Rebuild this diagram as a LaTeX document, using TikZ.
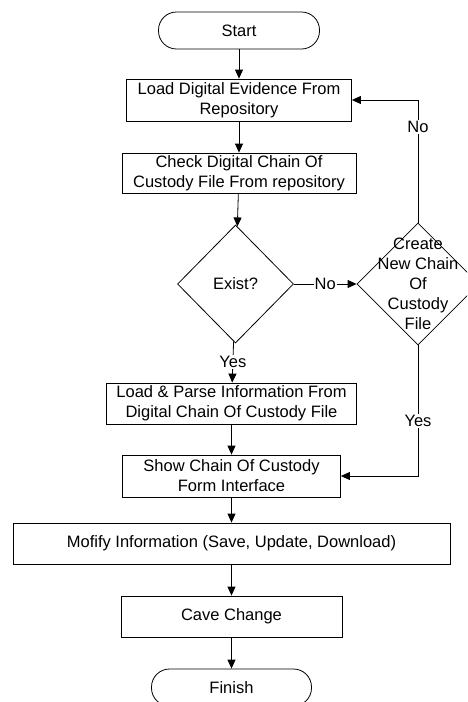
\documentclass[tikz,border=0pt]{standalone}
\usepackage{fontspec}
\setmainfont{Liberation Sans}
\usetikzlibrary{shapes, arrows.meta, positioning, calc}

\begin{document}
\begin{tikzpicture}[x=1pt, y=-1pt,
    every node/.style={font=\fontsize{16.5}{20}\selectfont},
    process/.style={draw, rectangle, line width=0.8pt, align=center, inner sep=2pt},
    terminal/.style={draw, rectangle, rounded corners=18pt, line width=0.8pt, minimum width=161pt, minimum height=37pt},
    decision/.style={draw, diamond, line width=0.8pt, inner sep=0pt},
    flow/.style={line width=0.8pt, -{Triangle[length=9pt, width=8pt]}},
    tag/.style={fill=white, inner sep=1pt}]
    \useasboundingbox (0,0) rectangle (467,702);
    \clip (0,0) rectangle (467,702);

    % main column
    \node[terminal] (start) at (239,30.5) {Start};
    \node[process, minimum width=225pt, minimum height=42pt] (load) at (239,100) {Load Digital Evidence From\\Repository};
    \node[process, minimum width=234pt, minimum height=40pt] (check) at (239,173) {Check Digital Chain Of\\Custody File From repository};
    \node[decision, minimum width=116pt, minimum height=118pt] (exist) at (235.5,284) {Exist?};
    \node[process, minimum width=250pt, minimum height=41pt] (parse) at (231.5,403.5) {Load \& Parse Information From\\Digital Chain Of Custody File};
    \node[process, minimum width=218pt, minimum height=42pt] (show) at (231.5,476) {Show Chain Of Custody\\Form Interface};
    \node[process, minimum width=437pt, minimum height=41pt] (modify) at (231.5,543.5) {Mofify Information (Save, Update, Download)};
    \node[process, minimum width=221pt, minimum height=41pt] (save) at (231.5,616.5) {Cave Change};
    \node[terminal, minimum width=160pt] (finish) at (231.5,687.5) {Finish};

    % side branch
    \node[decision, minimum width=122pt, minimum height=122pt] (create) at (418,284) {};
    \node[align=center] (createtext) at (create.center) {Create\\New Chain\\Of\\Custody\\File};

    \draw[flow] (start) -- (load);
    \draw[flow] (load) -- (check);
    \draw[flow] (check) -- (exist);
    \draw[flow] (exist) -- node[tag] {Yes} (parse);
    \draw[flow] (exist.east) -- node[tag] {No} (create.west);
    \draw[flow] (create.north) |- node[tag, pos=0.39] {No} (load.east);
    \draw[flow] (create.south) |- node[tag, pos=0.29] {Yes} (show.east);
    \draw[flow] (parse) -- (show);
    \draw[flow] (show) -- (modify);
    \draw[flow] (modify) -- (save);
    \draw[flow] (save) -- (finish);
\end{tikzpicture}
\end{document}
